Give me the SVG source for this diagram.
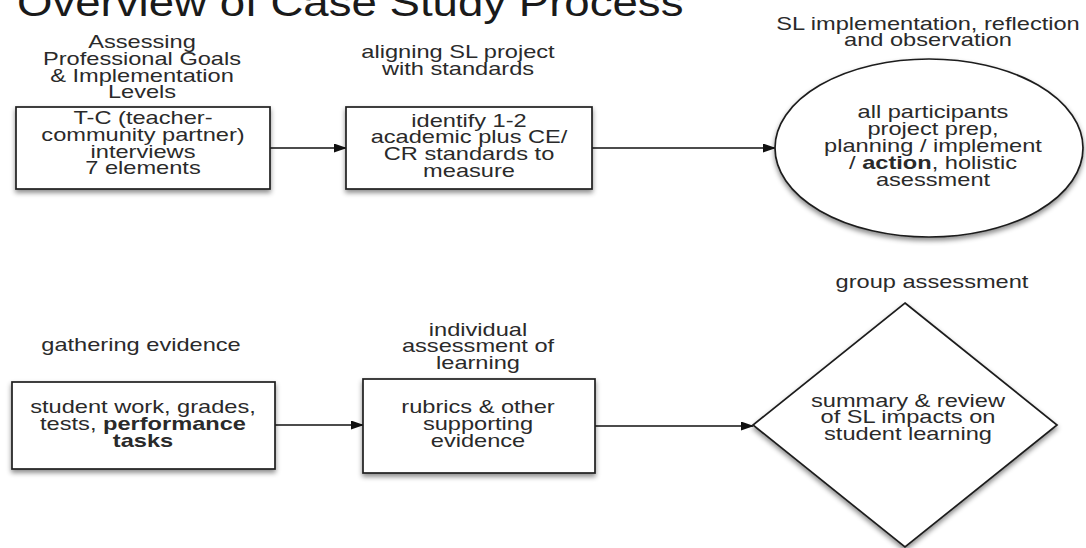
<svg xmlns="http://www.w3.org/2000/svg" width="1086" height="548" viewBox="0 0 1086 548">
<style>
.t{font-family:"Liberation Sans",Arial,Helvetica,sans-serif;font-size:17.5px;fill:#2a2a2a;text-anchor:middle}
.title{font-family:"Liberation Sans",Arial,Helvetica,sans-serif;font-size:38px;fill:#1a1a1a}
.b{font-weight:bold}
.shape{fill:#fff;stroke:#1e1e1e;stroke-width:1.7;filter:url(#sh)}
.conn{fill:none;stroke:#111;stroke-width:1.5;marker-end:url(#arr)}
</style>
<defs>
<filter id="sh" x="-10%" y="-10%" width="120%" height="130%">
<feDropShadow dx="0" dy="3" stdDeviation="2.5" flood-color="#000" flood-opacity="0.45"/>
</filter>
<marker id="arr" markerUnits="userSpaceOnUse" markerWidth="13" markerHeight="9" refX="12" refY="4.5" orient="auto">
<path d="M0,0 L13,4.5 L0,9 z" fill="#111"/>
</marker>
</defs>
<rect width="1086" height="548" fill="#fff"/>
<g id="title" transform="translate(17,0) scale(1.2,1)"><text class="title" x="0" y="16">Overview of Case Study Process</text></g>

<g id="connectors">
<line class="conn" x1="270" y1="148" x2="346" y2="148"/>
<line class="conn" x1="592" y1="148" x2="775" y2="148"/>
<line class="conn" x1="275" y1="425" x2="363" y2="425"/>
<line class="conn" x1="595" y1="426" x2="753" y2="426"/>
</g>

<g id="node-tc">
<rect class="shape" x="16" y="107" width="254" height="82"/>
<g transform="translate(142,0) scale(1.35,1)">
<text class="t" x="0" y="48">Assessing</text>
<text class="t" x="0" y="65">Professional Goals</text>
<text class="t" x="0" y="82">&amp; Implementation</text>
<text class="t" x="0" y="98">Levels</text>
</g>
<g transform="translate(143,0) scale(1.35,1)">
<text class="t" x="0" y="124">T-C (teacher-</text>
<text class="t" x="0" y="141">community partner)</text>
<text class="t" x="0" y="158">interviews</text>
<text class="t" x="0" y="174">7 elements</text>
</g>
</g>

<g id="node-standards">
<rect class="shape" x="346" y="107" width="246" height="82"/>
<g transform="translate(458,0) scale(1.35,1)">
<text class="t" x="0" y="58">aligning SL project</text>
<text class="t" x="0" y="75">with standards</text>
</g>
<g transform="translate(469,0) scale(1.35,1)">
<text class="t" x="0" y="127">identify 1-2</text>
<text class="t" x="0" y="143">academic plus CE/</text>
<text class="t" x="0" y="160">CR standards to</text>
<text class="t" x="0" y="177">measure</text>
</g>
</g>

<g id="node-implementation">
<ellipse class="shape" cx="929" cy="148" rx="154" ry="89"/>
<g transform="translate(928,0) scale(1.35,1)">
<text class="t" x="0" y="30">SL implementation, reflection</text>
<text class="t" x="0" y="46">and observation</text>
</g>
<g transform="translate(933,0) scale(1.35,1)">
<text class="t" x="0" y="118">all participants</text>
<text class="t" x="0" y="135">project prep,</text>
<text class="t" x="0" y="152">planning / implement</text>
<text class="t" x="0" y="169">/ <tspan class="b">action</tspan>, holistic</text>
<text class="t" x="0" y="186">asessment</text>
</g>
</g>

<g id="node-evidence">
<rect class="shape" x="12" y="382" width="263" height="87"/>
<g transform="translate(141,0) scale(1.35,1)">
<text class="t" x="0" y="351">gathering evidence</text>
</g>
<g transform="translate(143,0) scale(1.35,1)">
<text class="t" x="0" y="413">student work, grades,</text>
<text class="t" x="0" y="430">tests, <tspan class="b">performance</tspan></text>
<text class="t b" x="0" y="447">tasks</text>
</g>
</g>

<g id="node-individual">
<rect class="shape" x="363" y="379" width="232" height="94"/>
<g transform="translate(478,0) scale(1.35,1)">
<text class="t" x="0" y="336">individual</text>
<text class="t" x="0" y="352">assessment of</text>
<text class="t" x="0" y="369">learning</text>
</g>
<g transform="translate(478,0) scale(1.35,1)">
<text class="t" x="0" y="413">rubrics &amp; other</text>
<text class="t" x="0" y="430">supporting</text>
<text class="t" x="0" y="447">evidence</text>
</g>
</g>

<g id="node-group">
<polygon class="shape" points="905,303 1057,425 905,547 753,425"/>
<g transform="translate(932,0) scale(1.35,1)">
<text class="t" x="0" y="288">group assessment</text>
</g>
<g transform="translate(908,0) scale(1.35,1)">
<text class="t" x="0" y="407">summary &amp; review</text>
<text class="t" x="0" y="423">of SL impacts on</text>
<text class="t" x="0" y="440">student learning</text>
</g>
</g>
</svg>
